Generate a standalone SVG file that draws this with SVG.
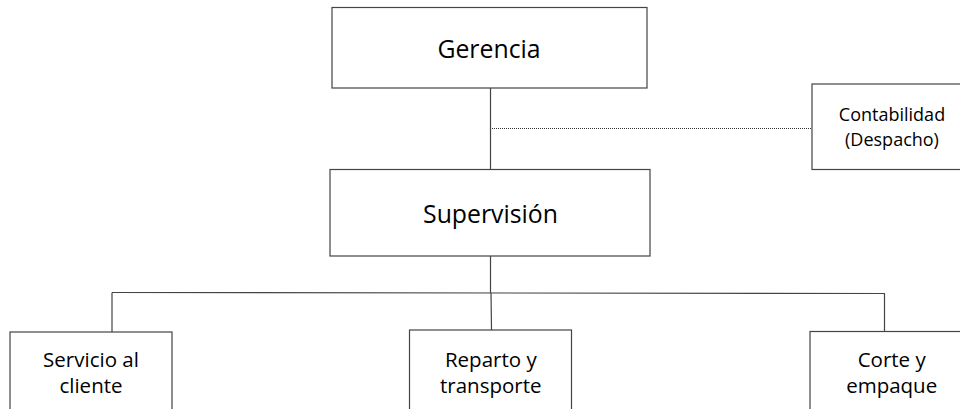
<svg xmlns="http://www.w3.org/2000/svg" width="960" height="409" viewBox="0 0 960 409">
<style>
.box{fill:#fff;stroke:#444;stroke-width:1.2}
.ln{fill:none;stroke:#444;stroke-width:1.2}
.dot{fill:none;stroke:#333;stroke-width:1;stroke-dasharray:1 1}
text{font-family:"Open Sans","Noto Sans","Liberation Sans",sans-serif;fill:#000;text-anchor:middle}
.big{font-size:24.8px}
.mid{font-size:20.5px}
.sm{font-size:18px}
</style>
<rect width="960" height="409" fill="#fff"/>
<g id="connectors">
<line class="ln" x1="490.5" y1="88" x2="490.5" y2="169"/>
<line class="dot" x1="492" y1="128.5" x2="812" y2="128.5"/>
<line class="ln" x1="490.5" y1="256" x2="490.5" y2="293"/>
<line class="ln" x1="112" y1="292.5" x2="885" y2="293.5"/>
<line class="ln" x1="112" y1="292.5" x2="112" y2="332"/>
<line class="ln" x1="491" y1="293" x2="491.5" y2="330"/>
<line class="ln" x1="884.5" y1="293.5" x2="884.5" y2="331.5"/>
</g>
<g id="gerencia">
<rect class="box" x="332" y="7.5" width="315" height="80.5"/>
<text class="big" x="489" y="57.5">Gerencia</text>
</g>
<g id="contabilidad">
<rect class="box" x="812" y="84" width="160" height="85.5"/>
<text class="sm" x="892" y="120.5">Contabilidad</text>
<text class="sm" x="892" y="146">(Despacho)</text>
</g>
<g id="supervision">
<rect class="box" x="330" y="169.5" width="320" height="86.5"/>
<text class="big" x="490.5" y="223.3">Supervisión</text>
</g>
<g id="servicio">
<rect class="box" x="10" y="332" width="162" height="90"/>
<text class="mid" x="91" y="367">Servicio al</text>
<text class="mid" x="91" y="393">cliente</text>
</g>
<g id="reparto">
<rect class="box" x="409.5" y="330" width="162" height="92"/>
<text class="mid" x="490.8" y="367">Reparto y</text>
<text class="mid" x="490.8" y="393">transporte</text>
</g>
<g id="corte">
<rect class="box" x="810" y="331.5" width="164" height="92"/>
<text class="mid" x="891.7" y="367">Corte y</text>
<text class="mid" x="891.7" y="393">empaque</text>
</g>
</svg>
